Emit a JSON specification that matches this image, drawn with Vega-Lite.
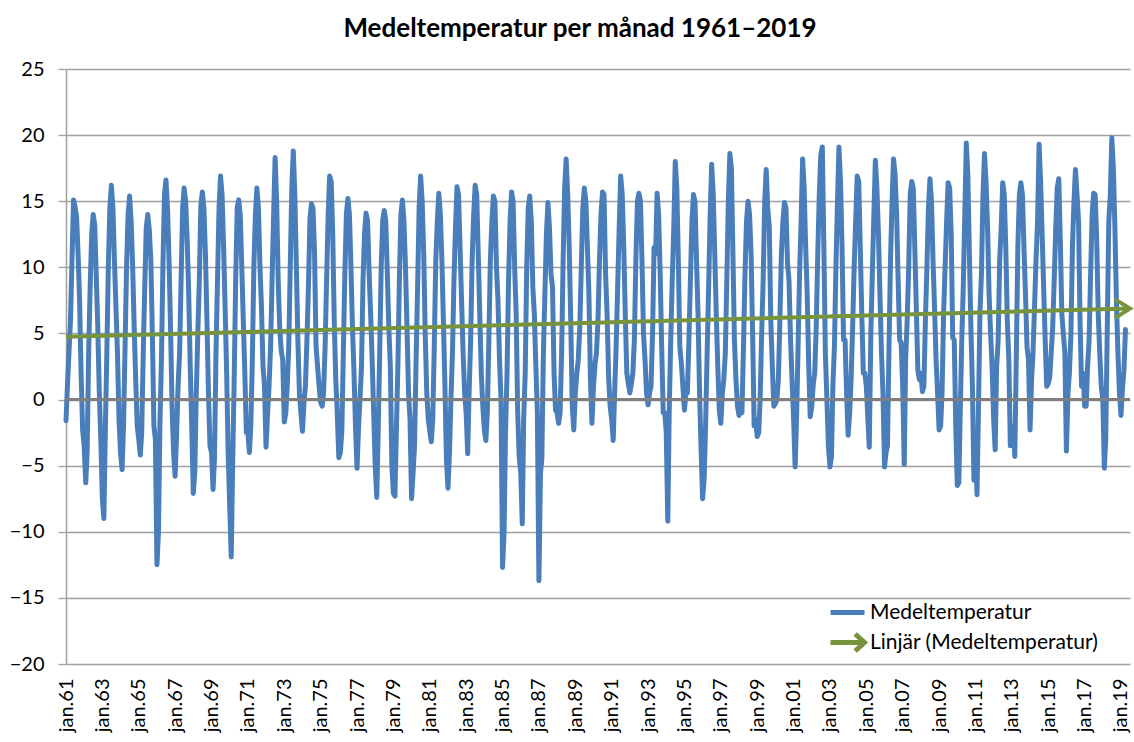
{
"$schema":"https://vega.github.io/schema/vega-lite/v6.json",
"width":1064,"height":595,
"autosize":{"type":"none"},
"padding":{"left":66,"top":69,"right":4,"bottom":78},
"background":"white",
"config":{"view":{"stroke":null},"font":"Lato","axis":{"labelOverlap":false}},
"title":{"text":"Medeltemperatur per månad 1961–2019","font":"Lato","fontSize":26,"fontWeight":"bold","color":"#000000","anchor":"middle","dx":-18,"dy":26,"baseline":"alphabetic","offset":22},
"datasets":{
"temp":[
{"d":"1961-01","t":-1.6},{"d":"1961-02","t":1.2},{"d":"1961-03","t":3.5},{"d":"1961-04","t":6.0},{"d":"1961-05","t":10.5},{"d":"1961-06","t":15.1},{"d":"1961-07","t":14.6},{"d":"1961-08","t":13.8},{"d":"1961-09","t":11.0},{"d":"1961-10","t":7.5},{"d":"1961-11","t":1.8},{"d":"1961-12","t":-2.3},
{"d":"1962-01","t":-3.5},{"d":"1962-02","t":-6.3},{"d":"1962-03","t":-4.0},{"d":"1962-04","t":3.5},{"d":"1962-05","t":8.5},{"d":"1962-06","t":12.5},{"d":"1962-07","t":14.0},{"d":"1962-08","t":13.2},{"d":"1962-09","t":9.3},{"d":"1962-10","t":5.5},{"d":"1962-11","t":0.5},{"d":"1962-12","t":-3.0},
{"d":"1963-01","t":-7.5},{"d":"1963-02","t":-9.0},{"d":"1963-03","t":-2.5},{"d":"1963-04","t":3.5},{"d":"1963-05","t":10.0},{"d":"1963-06","t":14.5},{"d":"1963-07","t":16.2},{"d":"1963-08","t":14.5},{"d":"1963-09","t":10.5},{"d":"1963-10","t":7.0},{"d":"1963-11","t":3.5},{"d":"1963-12","t":-1.5},
{"d":"1964-01","t":-4.0},{"d":"1964-02","t":-5.3},{"d":"1964-03","t":-2.0},{"d":"1964-04","t":4.0},{"d":"1964-05","t":10.0},{"d":"1964-06","t":14.0},{"d":"1964-07","t":15.4},{"d":"1964-08","t":13.5},{"d":"1964-09","t":10.0},{"d":"1964-10","t":5.5},{"d":"1964-11","t":1.5},{"d":"1964-12","t":-2.0},
{"d":"1965-01","t":-3.0},{"d":"1965-02","t":-4.2},{"d":"1965-03","t":-2.5},{"d":"1965-04","t":3.5},{"d":"1965-05","t":8.5},{"d":"1965-06","t":13.0},{"d":"1965-07","t":14.0},{"d":"1965-08","t":12.8},{"d":"1965-09","t":10.5},{"d":"1965-10","t":5.0},{"d":"1965-11","t":-2.0},{"d":"1965-12","t":-3.0},
{"d":"1966-01","t":-12.5},{"d":"1966-02","t":-10.0},{"d":"1966-03","t":-2.0},{"d":"1966-04","t":3.0},{"d":"1966-05","t":10.0},{"d":"1966-06","t":15.5},{"d":"1966-07","t":16.6},{"d":"1966-08","t":14.5},{"d":"1966-09","t":10.5},{"d":"1966-10","t":5.5},{"d":"1966-11","t":-0.5},{"d":"1966-12","t":-4.0},
{"d":"1967-01","t":-5.8},{"d":"1967-02","t":-2.5},{"d":"1967-03","t":1.0},{"d":"1967-04","t":3.5},{"d":"1967-05","t":9.0},{"d":"1967-06","t":14.5},{"d":"1967-07","t":16.0},{"d":"1967-08","t":15.0},{"d":"1967-09","t":12.0},{"d":"1967-10","t":8.0},{"d":"1967-11","t":2.5},{"d":"1967-12","t":-2.0},
{"d":"1968-01","t":-7.1},{"d":"1968-02","t":-5.5},{"d":"1968-03","t":0.5},{"d":"1968-04","t":5.0},{"d":"1968-05","t":9.0},{"d":"1968-06","t":14.7},{"d":"1968-07","t":15.7},{"d":"1968-08","t":14.5},{"d":"1968-09","t":11.0},{"d":"1968-10","t":6.0},{"d":"1968-11","t":0.5},{"d":"1968-12","t":-3.5},
{"d":"1969-01","t":-4.0},{"d":"1969-02","t":-6.8},{"d":"1969-03","t":-4.5},{"d":"1969-04","t":3.5},{"d":"1969-05","t":9.0},{"d":"1969-06","t":14.5},{"d":"1969-07","t":16.9},{"d":"1969-08","t":15.5},{"d":"1969-09","t":11.5},{"d":"1969-10","t":7.0},{"d":"1969-11","t":2.0},{"d":"1969-12","t":-4.0},
{"d":"1970-01","t":-8.0},{"d":"1970-02","t":-11.9},{"d":"1970-03","t":-5.0},{"d":"1970-04","t":1.5},{"d":"1970-05","t":9.0},{"d":"1970-06","t":14.5},{"d":"1970-07","t":15.1},{"d":"1970-08","t":14.0},{"d":"1970-09","t":10.0},{"d":"1970-10","t":6.0},{"d":"1970-11","t":2.0},{"d":"1970-12","t":-2.5},
{"d":"1971-01","t":-2.5},{"d":"1971-02","t":-4.0},{"d":"1971-03","t":-2.0},{"d":"1971-04","t":3.0},{"d":"1971-05","t":10.0},{"d":"1971-06","t":14.0},{"d":"1971-07","t":16.0},{"d":"1971-08","t":14.5},{"d":"1971-09","t":10.0},{"d":"1971-10","t":7.0},{"d":"1971-11","t":2.5},{"d":"1971-12","t":1.0},
{"d":"1972-01","t":-3.6},{"d":"1972-02","t":-1.0},{"d":"1972-03","t":1.0},{"d":"1972-04","t":4.0},{"d":"1972-05","t":9.0},{"d":"1972-06","t":14.0},{"d":"1972-07","t":18.3},{"d":"1972-08","t":15.0},{"d":"1972-09","t":9.0},{"d":"1972-10","t":5.5},{"d":"1972-11","t":3.7},{"d":"1972-12","t":3.0},
{"d":"1973-01","t":-1.7},{"d":"1973-02","t":-1.0},{"d":"1973-03","t":1.0},{"d":"1973-04","t":4.0},{"d":"1973-05","t":10.0},{"d":"1973-06","t":16.0},{"d":"1973-07","t":18.8},{"d":"1973-08","t":15.5},{"d":"1973-09","t":10.0},{"d":"1973-10","t":4.5},{"d":"1973-11","t":0.5},{"d":"1973-12","t":-1.0},
{"d":"1974-01","t":-2.4},{"d":"1974-02","t":-0.2},{"d":"1974-03","t":1.0},{"d":"1974-04","t":4.5},{"d":"1974-05","t":8.5},{"d":"1974-06","t":13.7},{"d":"1974-07","t":14.8},{"d":"1974-08","t":14.5},{"d":"1974-09","t":11.0},{"d":"1974-10","t":4.0},{"d":"1974-11","t":2.5},{"d":"1974-12","t":1.0},
{"d":"1975-01","t":-0.2},{"d":"1975-02","t":-0.5},{"d":"1975-03","t":0.5},{"d":"1975-04","t":4.0},{"d":"1975-05","t":9.0},{"d":"1975-06","t":14.0},{"d":"1975-07","t":16.9},{"d":"1975-08","t":16.5},{"d":"1975-09","t":12.5},{"d":"1975-10","t":6.0},{"d":"1975-11","t":1.5},{"d":"1975-12","t":-1.0},
{"d":"1976-01","t":-4.4},{"d":"1976-02","t":-4.0},{"d":"1976-03","t":-2.5},{"d":"1976-04","t":3.5},{"d":"1976-05","t":9.5},{"d":"1976-06","t":14.0},{"d":"1976-07","t":15.2},{"d":"1976-08","t":14.0},{"d":"1976-09","t":10.0},{"d":"1976-10","t":5.5},{"d":"1976-11","t":2.0},{"d":"1976-12","t":-2.0},
{"d":"1977-01","t":-5.2},{"d":"1977-02","t":-2.0},{"d":"1977-03","t":0.0},{"d":"1977-04","t":2.5},{"d":"1977-05","t":9.0},{"d":"1977-06","t":12.6},{"d":"1977-07","t":14.1},{"d":"1977-08","t":13.5},{"d":"1977-09","t":9.5},{"d":"1977-10","t":6.5},{"d":"1977-11","t":3.0},{"d":"1977-12","t":-1.0},
{"d":"1978-01","t":-5.0},{"d":"1978-02","t":-7.4},{"d":"1978-03","t":-2.5},{"d":"1978-04","t":3.5},{"d":"1978-05","t":10.0},{"d":"1978-06","t":13.6},{"d":"1978-07","t":14.3},{"d":"1978-08","t":13.5},{"d":"1978-09","t":9.5},{"d":"1978-10","t":5.5},{"d":"1978-11","t":2.5},{"d":"1978-12","t":-5.0},
{"d":"1979-01","t":-7.1},{"d":"1979-02","t":-7.3},{"d":"1979-03","t":-2.5},{"d":"1979-04","t":2.5},{"d":"1979-05","t":9.0},{"d":"1979-06","t":14.0},{"d":"1979-07","t":15.1},{"d":"1979-08","t":13.5},{"d":"1979-09","t":10.0},{"d":"1979-10","t":5.5},{"d":"1979-11","t":0.5},{"d":"1979-12","t":-1.5},
{"d":"1980-01","t":-7.5},{"d":"1980-02","t":-5.5},{"d":"1980-03","t":-3.5},{"d":"1980-04","t":3.0},{"d":"1980-05","t":8.5},{"d":"1980-06","t":14.5},{"d":"1980-07","t":16.9},{"d":"1980-08","t":15.0},{"d":"1980-09","t":11.0},{"d":"1980-10","t":5.0},{"d":"1980-11","t":0.5},{"d":"1980-12","t":-1.5},
{"d":"1981-01","t":-2.4},{"d":"1981-02","t":-3.2},{"d":"1981-03","t":-1.5},{"d":"1981-04","t":4.0},{"d":"1981-05","t":10.5},{"d":"1981-06","t":13.5},{"d":"1981-07","t":15.6},{"d":"1981-08","t":14.0},{"d":"1981-09","t":10.5},{"d":"1981-10","t":6.0},{"d":"1981-11","t":1.0},{"d":"1981-12","t":-4.5},
{"d":"1982-01","t":-6.7},{"d":"1982-02","t":-4.0},{"d":"1982-03","t":0.0},{"d":"1982-04","t":3.5},{"d":"1982-05","t":9.0},{"d":"1982-06","t":13.0},{"d":"1982-07","t":16.1},{"d":"1982-08","t":15.5},{"d":"1982-09","t":11.5},{"d":"1982-10","t":7.5},{"d":"1982-11","t":3.5},{"d":"1982-12","t":0.5},
{"d":"1983-01","t":-1.0},{"d":"1983-02","t":-4.1},{"d":"1983-03","t":0.5},{"d":"1983-04","t":4.5},{"d":"1983-05","t":10.5},{"d":"1983-06","t":14.0},{"d":"1983-07","t":16.2},{"d":"1983-08","t":15.5},{"d":"1983-09","t":11.0},{"d":"1983-10","t":6.5},{"d":"1983-11","t":2.0},{"d":"1983-12","t":-0.5},
{"d":"1984-01","t":-2.3},{"d":"1984-02","t":-3.1},{"d":"1984-03","t":-1.0},{"d":"1984-04","t":4.5},{"d":"1984-05","t":10.5},{"d":"1984-06","t":13.5},{"d":"1984-07","t":15.4},{"d":"1984-08","t":15.0},{"d":"1984-09","t":10.0},{"d":"1984-10","t":7.5},{"d":"1984-11","t":3.0},{"d":"1984-12","t":0.0},
{"d":"1985-01","t":-12.7},{"d":"1985-02","t":-10.0},{"d":"1985-03","t":-2.5},{"d":"1985-04","t":2.0},{"d":"1985-05","t":9.0},{"d":"1985-06","t":13.5},{"d":"1985-07","t":15.7},{"d":"1985-08","t":15.0},{"d":"1985-09","t":10.0},{"d":"1985-10","t":6.5},{"d":"1985-11","t":-1.0},{"d":"1985-12","t":-4.3},
{"d":"1986-01","t":-5.5},{"d":"1986-02","t":-9.4},{"d":"1986-03","t":-1.5},{"d":"1986-04","t":2.0},{"d":"1986-05","t":10.0},{"d":"1986-06","t":14.5},{"d":"1986-07","t":15.4},{"d":"1986-08","t":13.5},{"d":"1986-09","t":8.5},{"d":"1986-10","t":6.5},{"d":"1986-11","t":2.5},{"d":"1986-12","t":-1.0},
{"d":"1987-01","t":-13.7},{"d":"1987-02","t":-5.6},{"d":"1987-03","t":-4.5},{"d":"1987-04","t":3.5},{"d":"1987-05","t":8.0},{"d":"1987-06","t":12.5},{"d":"1987-07","t":14.9},{"d":"1987-08","t":13.0},{"d":"1987-09","t":9.5},{"d":"1987-10","t":8.5},{"d":"1987-11","t":2.0},{"d":"1987-12","t":-0.8},
{"d":"1988-01","t":-1.0},{"d":"1988-02","t":-1.8},{"d":"1988-03","t":-1.0},{"d":"1988-04","t":3.5},{"d":"1988-05","t":10.5},{"d":"1988-06","t":16.0},{"d":"1988-07","t":18.2},{"d":"1988-08","t":15.5},{"d":"1988-09","t":11.5},{"d":"1988-10","t":6.0},{"d":"1988-11","t":-0.5},{"d":"1988-12","t":-2.3},
{"d":"1989-01","t":0.5},{"d":"1989-02","t":2.0},{"d":"1989-03","t":3.0},{"d":"1989-04","t":5.5},{"d":"1989-05","t":10.0},{"d":"1989-06","t":14.5},{"d":"1989-07","t":16.0},{"d":"1989-08","t":15.0},{"d":"1989-09","t":11.5},{"d":"1989-10","t":8.0},{"d":"1989-11","t":1.5},{"d":"1989-12","t":-1.8},
{"d":"1990-01","t":1.0},{"d":"1990-02","t":2.7},{"d":"1990-03","t":3.5},{"d":"1990-04","t":6.0},{"d":"1990-05","t":10.5},{"d":"1990-06","t":14.0},{"d":"1990-07","t":15.7},{"d":"1990-08","t":15.5},{"d":"1990-09","t":9.5},{"d":"1990-10","t":6.5},{"d":"1990-11","t":1.7},{"d":"1990-12","t":-0.5},
{"d":"1991-01","t":-1.5},{"d":"1991-02","t":-3.1},{"d":"1991-03","t":0.5},{"d":"1991-04","t":4.0},{"d":"1991-05","t":8.5},{"d":"1991-06","t":13.0},{"d":"1991-07","t":16.9},{"d":"1991-08","t":15.5},{"d":"1991-09","t":11.5},{"d":"1991-10","t":6.5},{"d":"1991-11","t":2.0},{"d":"1991-12","t":1.2},
{"d":"1992-01","t":0.5},{"d":"1992-02","t":1.2},{"d":"1992-03","t":2.0},{"d":"1992-04","t":4.5},{"d":"1992-05","t":10.5},{"d":"1992-06","t":15.0},{"d":"1992-07","t":15.6},{"d":"1992-08","t":15.0},{"d":"1992-09","t":10.5},{"d":"1992-10","t":5.0},{"d":"1992-11","t":3.0},{"d":"1992-12","t":0.5},
{"d":"1993-01","t":-0.4},{"d":"1993-02","t":0.5},{"d":"1993-03","t":1.0},{"d":"1993-04","t":5.0},{"d":"1993-05","t":11.5},{"d":"1993-06","t":11.0},{"d":"1993-07","t":15.6},{"d":"1993-08","t":14.0},{"d":"1993-09","t":9.5},{"d":"1993-10","t":4.0},{"d":"1993-11","t":-1.0},{"d":"1993-12","t":-1.0},
{"d":"1994-01","t":-2.5},{"d":"1994-02","t":-9.2},{"d":"1994-03","t":-1.0},{"d":"1994-04","t":4.5},{"d":"1994-05","t":9.0},{"d":"1994-06","t":13.0},{"d":"1994-07","t":18.0},{"d":"1994-08","t":16.0},{"d":"1994-09","t":10.5},{"d":"1994-10","t":4.0},{"d":"1994-11","t":2.7},{"d":"1994-12","t":1.0},
{"d":"1995-01","t":-0.8},{"d":"1995-02","t":0.5},{"d":"1995-03","t":0.5},{"d":"1995-04","t":4.5},{"d":"1995-05","t":9.0},{"d":"1995-06","t":13.5},{"d":"1995-07","t":15.5},{"d":"1995-08","t":15.0},{"d":"1995-09","t":10.5},{"d":"1995-10","t":6.5},{"d":"1995-11","t":0.5},{"d":"1995-12","t":-3.7},
{"d":"1996-01","t":-7.5},{"d":"1996-02","t":-6.0},{"d":"1996-03","t":-2.0},{"d":"1996-04","t":3.5},{"d":"1996-05","t":8.5},{"d":"1996-06","t":14.0},{"d":"1996-07","t":17.8},{"d":"1996-08","t":15.5},{"d":"1996-09","t":11.0},{"d":"1996-10","t":6.5},{"d":"1996-11","t":2.5},{"d":"1996-12","t":-0.8},
{"d":"1997-01","t":-1.8},{"d":"1997-02","t":0.5},{"d":"1997-03","t":1.5},{"d":"1997-04","t":3.5},{"d":"1997-05","t":9.0},{"d":"1997-06","t":15.0},{"d":"1997-07","t":18.6},{"d":"1997-08","t":17.5},{"d":"1997-09","t":11.0},{"d":"1997-10","t":4.5},{"d":"1997-11","t":1.5},{"d":"1997-12","t":-0.5},
{"d":"1998-01","t":-1.2},{"d":"1998-02","t":-0.5},{"d":"1998-03","t":-1.0},{"d":"1998-04","t":4.0},{"d":"1998-05","t":9.5},{"d":"1998-06","t":13.5},{"d":"1998-07","t":15.0},{"d":"1998-08","t":14.0},{"d":"1998-09","t":11.0},{"d":"1998-10","t":5.0},{"d":"1998-11","t":-2.0},{"d":"1998-12","t":-1.5},
{"d":"1999-01","t":-2.8},{"d":"1999-02","t":-2.5},{"d":"1999-03","t":0.0},{"d":"1999-04","t":5.0},{"d":"1999-05","t":9.0},{"d":"1999-06","t":15.0},{"d":"1999-07","t":17.4},{"d":"1999-08","t":14.5},{"d":"1999-09","t":13.0},{"d":"1999-10","t":6.0},{"d":"1999-11","t":2.5},{"d":"1999-12","t":-0.5},
{"d":"2000-01","t":-0.3},{"d":"2000-02","t":0.0},{"d":"2000-03","t":1.5},{"d":"2000-04","t":6.0},{"d":"2000-05","t":11.0},{"d":"2000-06","t":13.5},{"d":"2000-07","t":14.9},{"d":"2000-08","t":14.5},{"d":"2000-09","t":10.3},{"d":"2000-10","t":9.0},{"d":"2000-11","t":4.5},{"d":"2000-12","t":1.5},
{"d":"2001-01","t":-1.5},{"d":"2001-02","t":-5.1},{"d":"2001-03","t":-1.5},{"d":"2001-04","t":4.0},{"d":"2001-05","t":9.5},{"d":"2001-06","t":13.5},{"d":"2001-07","t":18.2},{"d":"2001-08","t":16.0},{"d":"2001-09","t":11.5},{"d":"2001-10","t":8.0},{"d":"2001-11","t":2.5},{"d":"2001-12","t":-1.3},
{"d":"2002-01","t":-0.5},{"d":"2002-02","t":1.2},{"d":"2002-03","t":2.0},{"d":"2002-04","t":5.5},{"d":"2002-05","t":11.0},{"d":"2002-06","t":15.5},{"d":"2002-07","t":18.5},{"d":"2002-08","t":19.1},{"d":"2002-09","t":11.5},{"d":"2002-10","t":3.5},{"d":"2002-11","t":0.0},{"d":"2002-12","t":-3.5},
{"d":"2003-01","t":-5.1},{"d":"2003-02","t":-4.3},{"d":"2003-03","t":1.0},{"d":"2003-04","t":4.0},{"d":"2003-05","t":10.0},{"d":"2003-06","t":15.0},{"d":"2003-07","t":19.1},{"d":"2003-08","t":16.5},{"d":"2003-09","t":11.5},{"d":"2003-10","t":4.5},{"d":"2003-11","t":4.5},{"d":"2003-12","t":0.5},
{"d":"2004-01","t":-2.7},{"d":"2004-02","t":-1.0},{"d":"2004-03","t":1.5},{"d":"2004-04","t":5.5},{"d":"2004-05","t":10.0},{"d":"2004-06","t":13.5},{"d":"2004-07","t":16.9},{"d":"2004-08","t":16.5},{"d":"2004-09","t":11.5},{"d":"2004-10","t":6.5},{"d":"2004-11","t":2.0},{"d":"2004-12","t":2.0},
{"d":"2005-01","t":1.0},{"d":"2005-02","t":-1.5},{"d":"2005-03","t":-3.6},{"d":"2005-04","t":5.0},{"d":"2005-05","t":9.5},{"d":"2005-06","t":14.0},{"d":"2005-07","t":18.1},{"d":"2005-08","t":16.0},{"d":"2005-09","t":12.5},{"d":"2005-10","t":8.0},{"d":"2005-11","t":3.5},{"d":"2005-12","t":0.5},
{"d":"2006-01","t":-5.1},{"d":"2006-02","t":-4.0},{"d":"2006-03","t":-3.5},{"d":"2006-04","t":4.0},{"d":"2006-05","t":10.5},{"d":"2006-06","t":15.0},{"d":"2006-07","t":18.2},{"d":"2006-08","t":17.0},{"d":"2006-09","t":14.0},{"d":"2006-10","t":9.0},{"d":"2006-11","t":4.5},{"d":"2006-12","t":4.3},
{"d":"2007-01","t":1.0},{"d":"2007-02","t":-4.9},{"d":"2007-03","t":3.0},{"d":"2007-04","t":6.0},{"d":"2007-05","t":10.0},{"d":"2007-06","t":15.5},{"d":"2007-07","t":16.5},{"d":"2007-08","t":16.0},{"d":"2007-09","t":11.5},{"d":"2007-10","t":7.0},{"d":"2007-11","t":2.2},{"d":"2007-12","t":1.5},
{"d":"2008-01","t":2.0},{"d":"2008-02","t":0.6},{"d":"2008-03","t":1.0},{"d":"2008-04","t":6.0},{"d":"2008-05","t":10.0},{"d":"2008-06","t":14.5},{"d":"2008-07","t":16.7},{"d":"2008-08","t":15.0},{"d":"2008-09","t":10.5},{"d":"2008-10","t":7.0},{"d":"2008-11","t":3.0},{"d":"2008-12","t":0.5},
{"d":"2009-01","t":-2.3},{"d":"2009-02","t":-2.0},{"d":"2009-03","t":0.5},{"d":"2009-04","t":6.5},{"d":"2009-05","t":10.0},{"d":"2009-06","t":13.5},{"d":"2009-07","t":16.4},{"d":"2009-08","t":16.0},{"d":"2009-09","t":12.5},{"d":"2009-10","t":4.7},{"d":"2009-11","t":4.5},{"d":"2009-12","t":-2.0},
{"d":"2010-01","t":-6.5},{"d":"2010-02","t":-6.3},{"d":"2010-03","t":-1.0},{"d":"2010-04","t":4.5},{"d":"2010-05","t":8.5},{"d":"2010-06","t":14.0},{"d":"2010-07","t":19.4},{"d":"2010-08","t":17.0},{"d":"2010-09","t":11.0},{"d":"2010-10","t":5.5},{"d":"2010-11","t":1.0},{"d":"2010-12","t":-6.1},
{"d":"2011-01","t":-3.0},{"d":"2011-02","t":-7.2},{"d":"2011-03","t":-1.0},{"d":"2011-04","t":6.5},{"d":"2011-05","t":9.5},{"d":"2011-06","t":15.5},{"d":"2011-07","t":18.6},{"d":"2011-08","t":16.5},{"d":"2011-09","t":13.0},{"d":"2011-10","t":8.0},{"d":"2011-11","t":5.0},{"d":"2011-12","t":2.5},
{"d":"2012-01","t":-1.5},{"d":"2012-02","t":-3.8},{"d":"2012-03","t":2.5},{"d":"2012-04","t":4.5},{"d":"2012-05","t":10.5},{"d":"2012-06","t":13.0},{"d":"2012-07","t":16.4},{"d":"2012-08","t":15.5},{"d":"2012-09","t":11.5},{"d":"2012-10","t":6.0},{"d":"2012-11","t":3.0},{"d":"2012-12","t":-3.5},
{"d":"2013-01","t":-2.5},{"d":"2013-02","t":-2.0},{"d":"2013-03","t":-4.3},{"d":"2013-04","t":3.5},{"d":"2013-05","t":11.5},{"d":"2013-06","t":15.5},{"d":"2013-07","t":16.4},{"d":"2013-08","t":15.5},{"d":"2013-09","t":11.5},{"d":"2013-10","t":8.0},{"d":"2013-11","t":4.0},{"d":"2013-12","t":3.0},
{"d":"2014-01","t":-2.3},{"d":"2014-02","t":1.5},{"d":"2014-03","t":3.5},{"d":"2014-04","t":7.0},{"d":"2014-05","t":10.5},{"d":"2014-06","t":13.5},{"d":"2014-07","t":19.3},{"d":"2014-08","t":16.5},{"d":"2014-09","t":12.5},{"d":"2014-10","t":8.5},{"d":"2014-11","t":4.5},{"d":"2014-12","t":1.0},
{"d":"2015-01","t":1.2},{"d":"2015-02","t":1.7},{"d":"2015-03","t":3.5},{"d":"2015-04","t":5.5},{"d":"2015-05","t":9.0},{"d":"2015-06","t":13.0},{"d":"2015-07","t":16.0},{"d":"2015-08","t":16.7},{"d":"2015-09","t":12.0},{"d":"2015-10","t":6.5},{"d":"2015-11","t":5.0},{"d":"2015-12","t":3.5},
{"d":"2016-01","t":-3.9},{"d":"2016-02","t":0.5},{"d":"2016-03","t":2.0},{"d":"2016-04","t":5.0},{"d":"2016-05","t":11.5},{"d":"2016-06","t":15.0},{"d":"2016-07","t":17.4},{"d":"2016-08","t":15.5},{"d":"2016-09","t":13.5},{"d":"2016-10","t":6.0},{"d":"2016-11","t":1.0},{"d":"2016-12","t":2.0},
{"d":"2017-01","t":-0.5},{"d":"2017-02","t":-0.5},{"d":"2017-03","t":2.5},{"d":"2017-04","t":4.5},{"d":"2017-05","t":9.5},{"d":"2017-06","t":14.0},{"d":"2017-07","t":15.6},{"d":"2017-08","t":15.5},{"d":"2017-09","t":12.0},{"d":"2017-10","t":6.5},{"d":"2017-11","t":3.5},{"d":"2017-12","t":1.0},
{"d":"2018-01","t":0.0},{"d":"2018-02","t":-5.2},{"d":"2018-03","t":-3.0},{"d":"2018-04","t":5.5},{"d":"2018-05","t":13.5},{"d":"2018-06","t":15.5},{"d":"2018-07","t":19.8},{"d":"2018-08","t":17.5},{"d":"2018-09","t":13.0},{"d":"2018-10","t":7.5},{"d":"2018-11","t":3.5},{"d":"2018-12","t":0.5},
{"d":"2019-01","t":-1.2},{"d":"2019-02","t":0.9},{"d":"2019-03","t":2.2},{"d":"2019-04","t":5.3}
],
"trend":[{"d":"1961-01","v":4.75},{"d":"2019-07","v":6.88}],
"zero":[{"y":0}]
},
"layer":[
{"data":{"name":"temp"},
 "mark":{"type":"line","strokeWidth":5,"strokeJoin":"round","strokeCap":"round"},
 "encoding":{
  "x":{"field":"d","type":"temporal","scale":{"type":"utc","domain":[{"year":1961,"month":1,"date":1,"utc":true},{"year":2019,"month":7,"date":1,"utc":true}]},
   "axis":{"title":null,"tickCount":60,"values":[{"year":1961,"month":1,"date":1,"utc":true},{"year":1963,"month":1,"date":1,"utc":true},{"year":1965,"month":1,"date":1,"utc":true},{"year":1967,"month":1,"date":1,"utc":true},{"year":1969,"month":1,"date":1,"utc":true},{"year":1971,"month":1,"date":1,"utc":true},{"year":1973,"month":1,"date":1,"utc":true},{"year":1975,"month":1,"date":1,"utc":true},{"year":1977,"month":1,"date":1,"utc":true},{"year":1979,"month":1,"date":1,"utc":true},{"year":1981,"month":1,"date":1,"utc":true},{"year":1983,"month":1,"date":1,"utc":true},{"year":1985,"month":1,"date":1,"utc":true},{"year":1987,"month":1,"date":1,"utc":true},{"year":1989,"month":1,"date":1,"utc":true},{"year":1991,"month":1,"date":1,"utc":true},{"year":1993,"month":1,"date":1,"utc":true},{"year":1995,"month":1,"date":1,"utc":true},{"year":1997,"month":1,"date":1,"utc":true},{"year":1999,"month":1,"date":1,"utc":true},{"year":2001,"month":1,"date":1,"utc":true},{"year":2003,"month":1,"date":1,"utc":true},{"year":2005,"month":1,"date":1,"utc":true},{"year":2007,"month":1,"date":1,"utc":true},{"year":2009,"month":1,"date":1,"utc":true},{"year":2011,"month":1,"date":1,"utc":true},{"year":2013,"month":1,"date":1,"utc":true},{"year":2015,"month":1,"date":1,"utc":true},{"year":2017,"month":1,"date":1,"utc":true},{"year":2019,"month":1,"date":1,"utc":true}],
    "labelExpr":"'jan.' + utcFormat(datum.value, '%y')","labelAngle":-90,"labelAlign":"right","labelBaseline":"middle","labelFont":"Lato","labelFontSize":20,"labelColor":"#000000","labelPadding":14,"ticks":false,"domain":false,"grid":false,"labelOverlap":false,"labelFlush":false,"labelBound":false}},
  "y":{"field":"t","type":"quantitative","scale":{"domain":[-20,25],"nice":false,"zero":false},
   "axis":{"title":null,"values":[-20,-15,-10,-5,0,5,10,15,20,25],"labelFont":"Lato","labelFontSize":20,"labelColor":"#000000","labelPadding":14,"tickSize":8,"tickColor":"#a0a0a0","tickWidth":1.3,"domainColor":"#a0a0a0","domainWidth":1.5,"gridColor":"#a0a0a0","gridWidth":1.3,"grid":true}},
  "color":{"datum":"Medeltemperatur","type":"nominal","scale":{"domain":["Medeltemperatur","Linjär (Medeltemperatur)"],"range":["#4A7EBB","#77933C"]},
   "legend":{"title":null,"orient":"none","legendX":762,"legendY":524,"labelFont":"Lato","labelFontSize":21,"labelColor":"#000000","labelLimit":500,"symbolType":"stroke","symbolSize":1156,"symbolStrokeWidth":5,"rowPadding":-7,"labelOffset":3,
    "encode":{"symbols":{"update":{"shape":{"signal":"datum.value === 'Medeltemperatur' ? 'stroke' : 'M-1,0H0.9M0.45,-0.5L1,0L0.45,0.5'"}}}}}}
 }},
{"data":{"name":"zero"},
 "mark":{"type":"rule","color":"#7f7f7f","strokeWidth":3},
 "encoding":{"y":{"field":"y","type":"quantitative"}}},
{"data":{"name":"trend"},
 "mark":{"type":"line","strokeWidth":4},
 "encoding":{
  "x":{"field":"d","type":"temporal"},
  "y":{"field":"v","type":"quantitative"},
  "color":{"datum":"Linjär (Medeltemperatur)","type":"nominal"}}},
{"data":{"name":"trend"},
 "transform":[{"filter":"datum.v > 6"}],
 "mark":{"type":"point","shape":"M-1.6,-1L0,0L-1.6,1","size":361,"filled":false,"stroke":"#77933C","strokeWidth":4,"opacity":1},
 "encoding":{
  "x":{"field":"d","type":"temporal"},
  "y":{"field":"v","type":"quantitative"}}}
]
}
